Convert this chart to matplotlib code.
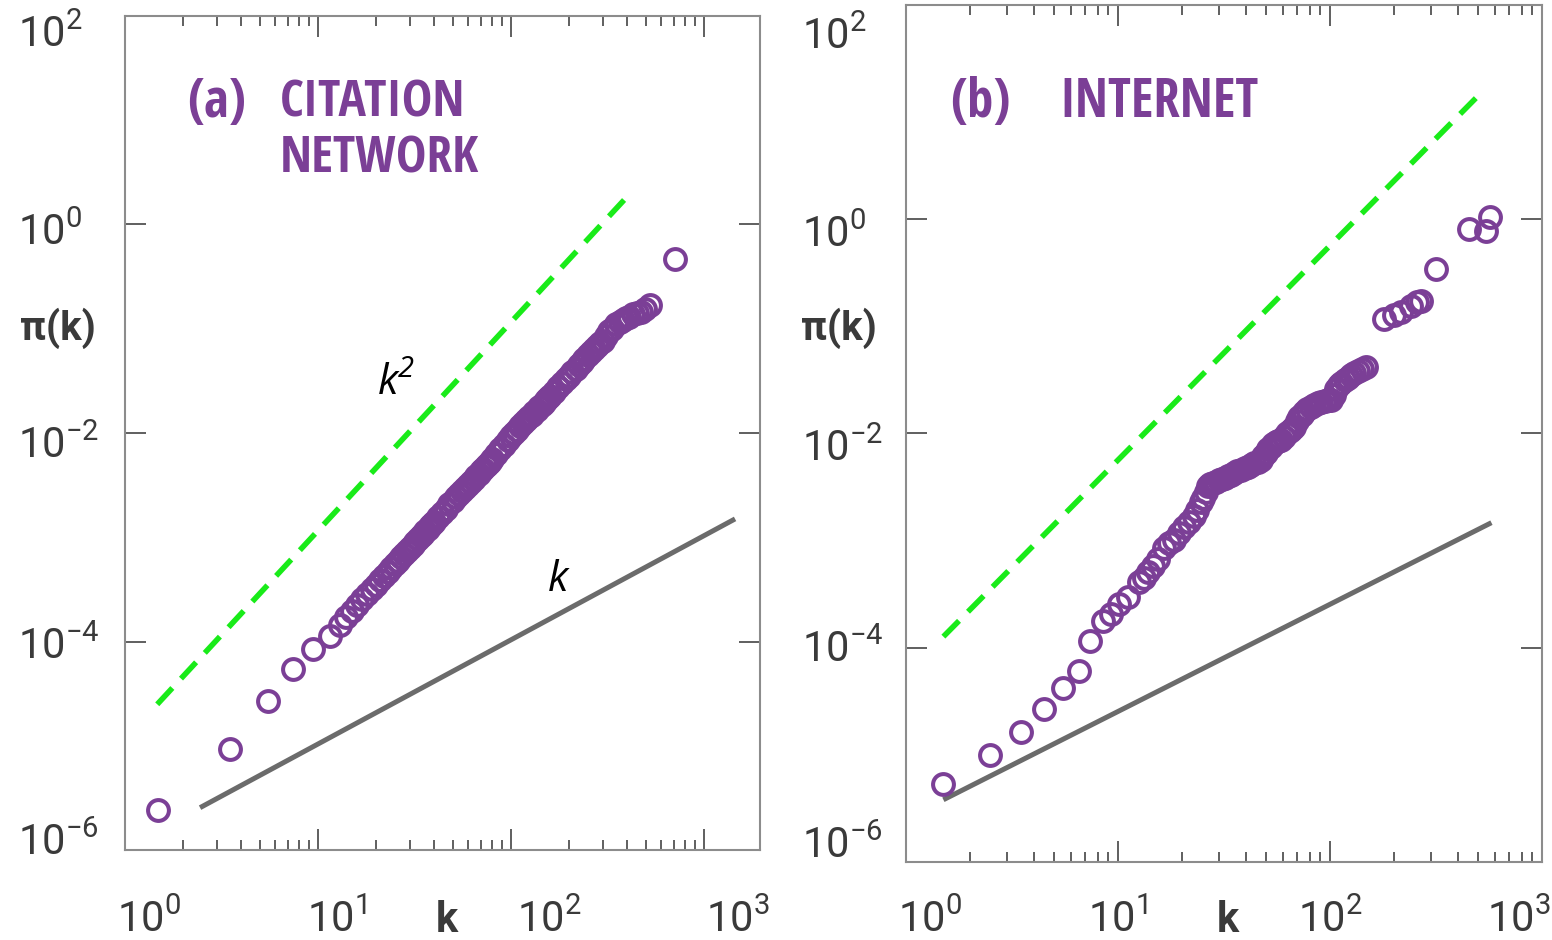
import matplotlib
matplotlib.use("Agg")
import matplotlib.pyplot as plt

# ---- data ----
# (a) citation network
k_a = [1.48, 3.5, 5.5, 7.4, 9.4, 11.5, 13.0,
       14, 15, 16, 17, 18, 19, 20, 21, 22, 23, 24, 25, 26, 27, 28, 29, 30, 31, 32, 33,
       34, 35, 36, 37, 38, 39, 40, 42, 44, 46, 48, 50, 52, 54, 56, 58, 60, 62, 64, 66,
       68, 70, 72, 74, 76, 78, 80, 84, 88, 92, 96, 100, 104, 108, 112, 116, 120, 124,
       128, 132, 136, 140, 144, 148, 152, 156, 160, 168, 176, 184, 192, 200, 208, 216,
       224, 232, 240, 250, 260, 270, 280, 290, 300, 310, 320, 335, 350, 365, 380, 395,
       410, 430, 450, 470, 495, 525, 708]
pi_a = [2.4e-6, 9.4e-6, 2.66e-5, 5.4e-5, 8.4e-5, 1.12e-4, 1.45e-4,
        1.72e-4, 1.98e-4, 2.25e-4, 2.54e-4, 2.85e-4, 3.18e-4, 3.52e-4, 3.88e-4, 4.26e-4,
        4.66e-4, 5.07e-4, 5.5e-4, 5.95e-4, 6.42e-4, 6.9e-4, 7.4e-4, 7.92e-4, 8.46e-4,
        9.0e-4, 9.58e-4, 1.02e-3, 1.08e-3, 1.14e-3, 1.2e-3, 1.27e-3, 1.34e-3, 1.41e-3,
        1.55e-3, 1.7e-3, 1.86e-3, 2.1e-3, 2.25e-3, 2.42e-3, 2.6e-3, 2.78e-3, 2.97e-3,
        3.18e-3, 3.4e-3, 3.62e-3, 3.84e-3, 4.07e-3, 4.3e-3, 4.55e-3, 4.8e-3, 5.06e-3,
        5.32e-3, 5.6e-3, 6.25e-3, 6.95e-3, 7.7e-3, 8.5e-3, 9.3e-3, 1.0e-2, 1.08e-2,
        1.16e-2, 1.24e-2, 1.32e-2, 1.41e-2, 1.5e-2, 1.58e-2, 1.67e-2, 1.77e-2, 1.86e-2,
        1.96e-2, 2.06e-2, 2.17e-2, 2.28e-2, 2.5e-2, 2.75e-2, 3.0e-2, 3.27e-2, 3.55e-2,
        3.84e-2, 4.15e-2, 4.46e-2, 4.8e-2, 5.12e-2, 5.55e-2, 6.0e-2, 6.45e-2, 6.9e-2,
        7.3e-2, 7.6e-2, 8.6e-2, 9.5e-2, 0.100, 0.110, 0.117, 0.122, 0.126, 0.130,
        0.137, 0.142, 0.146, 0.155, 0.170, 0.47]

# (b) internet
k_b = [1.50, 2.50, 3.47, 4.47, 5.51, 6.51, 7.41, 8.45, 9.22, 10.05, 11.2, 12.5, 13.2,
       13.8, 14.6, 15.4, 16.4, 17.3, 18.3, 19.3, 20.4, 21.5, 22.7, 23.6, 24.5, 25.2,
       26.0, 26.5, 27.2, 28.0, 29.0, 30.0, 31.0, 32.0, 33.0, 34.0, 35.2, 36.5, 38.0,
       39.5, 41.0, 42.5, 44.0, 45.5, 47.2, 48.5, 49.8, 51.0, 52.6, 54.0, 55.5, 57.0,
       58.7, 60.5, 62.5, 64.5, 66.0, 67.6, 69.5, 71.5, 73.5, 75.4, 78.0, 81.0, 84.0,
       87.7, 91.0, 95.0, 98.0, 101, 104, 107, 110, 113, 117, 121, 126, 130, 135, 141,
       148, 180, 200, 217, 240, 258, 269, 316, 451, 543, 566]
pi_b = [5.4e-6, 1.0e-5, 1.62e-5, 2.67e-5, 4.24e-5, 6.04e-5, 1.15e-4, 1.76e-4, 2.05e-4,
        2.54e-4, 2.95e-4, 4.07e-4, 4.5e-4, 5.05e-4, 5.8e-4, 6.67e-4, 8.6e-4, 9.4e-4,
        1.02e-3, 1.18e-3, 1.35e-3, 1.5e-3, 1.68e-3, 1.95e-3, 2.27e-3, 2.5e-3, 2.85e-3,
        3.2e-3, 3.35e-3, 3.45e-3, 3.55e-3, 3.65e-3, 3.76e-3, 3.86e-3, 3.98e-3, 4.1e-3,
        4.32e-3, 4.45e-3, 4.6e-3, 4.75e-3, 4.91e-3, 5.1e-3, 5.25e-3, 5.45e-3, 5.7e-3,
        6.1e-3, 6.6e-3, 7.1e-3, 7.55e-3, 8.0e-3, 8.3e-3, 8.55e-3, 8.77e-3, 9.3e-3,
        1.0e-2, 1.06e-2, 1.11e-2, 1.16e-2, 1.3e-2, 1.42e-2, 1.5e-2, 1.57e-2, 1.68e-2,
        1.78e-2, 1.86e-2, 1.94e-2, 1.98e-2, 2.01e-2, 2.04e-2, 2.07e-2, 2.3e-2, 2.6e-2,
        2.85e-2, 2.98e-2, 3.15e-2, 3.3e-2, 3.5e-2, 3.7e-2, 3.85e-2, 4.0e-2, 4.2e-2,
        0.118, 0.128, 0.135, 0.155, 0.168, 0.172, 0.340, 0.815, 0.781, 1.06]

# guide lines k^2 (dashed) and k (solid), end points
k2_a_k, k2_a_pi = [1.47, 390], [2.5e-5, 1.76]
k1_a_k, k1_a_pi = [2.45, 1448], [2.55e-6, 1.5e-3]
k2_b_k, k2_b_pi = [1.50, 535], [1.27e-4, 16.3]
k1_b_k, k1_b_pi = [1.50, 577], [3.81e-6, 1.47e-3]

xticks = [1, 10, 100, 1000]
xtick_labels = ['$10^{0}$', '$10^{1}$', '$10^{2}$', '$10^{3}$']
yticks = [1e-6, 1e-4, 1e-2, 1e0, 1e2]
ytick_labels = ['$10^{-6}$', '$10^{-4}$', '$10^{-2}$', '$10^{0}$', '$10^{2}$']

PURPLE = '#7b3f96'
GREEN = '#19eb19'
GRAY = '#6b6b6b'
TXT = '#3a3a3a'

plt.rcParams['mathtext.default'] = 'regular'
label_font = dict(family=['Roboto', 'DejaVu Sans'], weight='normal', size=30, color=TXT)
axis_font = dict(family=['Roboto', 'DejaVu Sans'], weight='bold', color=TXT)
title_font = dict(family=['Open Sans Condensed', 'Roboto Condensed', 'Liberation Sans Narrow',
                          'Roboto', 'DejaVu Sans'], weight='bold', color=PURPLE)

fig = plt.figure(figsize=(15.52, 9.40), dpi=100)
ax1 = fig.add_axes([0.0805, 0.0957, 0.4092, 0.8873])
ax2 = fig.add_axes([0.5838, 0.0830, 0.4098, 0.9117])


def style(ax, xmax, xoffs, xbase, yoffs, yleft, ylab_y, klab_x):
    ax.set_xscale('log')
    ax.set_yscale('log')
    ax.set_xlim(1, xmax)
    ax.set_ylim(1e-6, 1e2)
    for s in ax.spines.values():
        s.set_color('#8c8c8c')
        s.set_linewidth(1.5)
    ax.set_yticks(yticks)
    ax.yaxis.set_minor_locator(matplotlib.ticker.NullLocator())
    ax.set_xticks(xticks)
    ax.xaxis.set_minor_locator(matplotlib.ticker.LogLocator(base=10, subs=range(2, 10)))
    ax.tick_params(which='both', direction='in', top=True, right=True,
                   labelbottom=False, labelleft=False, color='#444444', width=1.2)
    ax.tick_params(which='major', length=15)
    ax.tick_params(which='minor', length=7.5)
    for t, lab, dx in zip(xticks, xtick_labels, xoffs):
        ax.annotate(lab, xy=(t, 0), xycoords=('data', 'axes fraction'),
                    xytext=(dx, -xbase), textcoords='offset pixels',
                    ha='center', va='baseline', **label_font)
    for t, lab, dy in zip(yticks, ytick_labels, yoffs):
        ax.annotate(lab, xy=(0, t), xycoords=('axes fraction', 'data'),
                    xytext=(yleft, -dy), textcoords='offset pixels',
                    ha='left', va='baseline', **label_font)
    ax.annotate('π(k)', xy=(0, ylab_y), xycoords='axes fraction',
                xytext=(-67, 0), textcoords='offset pixels', ha='center', va='center',
                size=29, **axis_font)
    ax.annotate('k', xy=(klab_x, 0), xycoords='axes fraction',
                xytext=(0, -xbase), textcoords='offset pixels', ha='center',
                va='baseline', size=30, **axis_font)


# panel (a)
ax1.plot(k2_a_k, k2_a_pi, color=GREEN, lw=4, dashes=(4, 2.3))
ax1.plot(k1_a_k, k1_a_pi, color=GRAY, lw=3.6, solid_capstyle='butt')
ax1.plot(k_a, pi_a, 'o', ms=15, mfc='none', mec=PURPLE, mew=2.9)
style(ax1, 1950, [24, 19, 38, 34], 82, [5, 17, 25, 21, 31], -107, 0.626, 0.507)
ax1.text(25.4, 2.92e-2, '$k^2$', family='Open Sans', style='italic', size=30,
         ha='center', va='center', color='black')
ax1.text(177, 3.85e-4, '$k$', family='Open Sans', style='italic', size=30,
         ha='center', va='center', color='black')
ax1.text(0.0976, 0.879, '(a)', transform=ax1.transAxes, size=38,
         va='baseline', ha='left', **title_font)
ax1.text(0.244, 0.879, 'CITATION', transform=ax1.transAxes, size=37,
         va='baseline', ha='left', **title_font)
ax1.text(0.244, 0.812, 'NETWORK', transform=ax1.transAxes, size=37,
         va='baseline', ha='left', **title_font)

# panel (b)
ax2.plot(k2_b_k, k2_b_pi, color=GREEN, lw=4, dashes=(4, 2.3))
ax2.plot(k1_b_k, k1_b_pi, color=GRAY, lw=3.6, solid_capstyle='butt')
ax2.plot(k_b, pi_b, 'o', ms=15, mfc='none', mec=PURPLE, mew=2.9)
style(ax2, 1000, [24, 0, 0, -23], 70, [-4, 14, 28, 28, 44], -104, 0.623, 0.506)
ax2.text(0.069, 0.869, '(b)', transform=ax2.transAxes, size=38,
         va='baseline', ha='left', **title_font)
ax2.text(0.2406, 0.869, 'INTERNET', transform=ax2.transAxes, size=38,
         va='baseline', ha='left', **title_font)

fig.savefig('out.png', dpi=100)
